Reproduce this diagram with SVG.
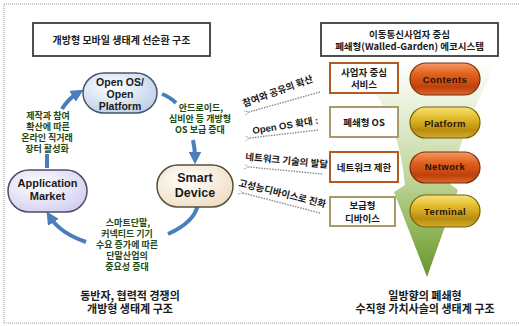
<svg xmlns="http://www.w3.org/2000/svg" width="519" height="326" viewBox="0 0 519 326">
  <defs>
    <style>
      .ko { font-family: "Noto Sans CJK KR", "Liberation Sans", sans-serif; font-weight: bold; }
      .lat { font-family: "Liberation Sans", "Noto Sans CJK KR", sans-serif; font-weight: bold; }
      .green { fill: #1d4a12; font-size: 9px; }
      .dark { fill: #1a1a1a; }
      .hdr { fill: #fff; stroke: #3c3c3c; stroke-width: 1.8; }
      .flow { fill: none; stroke: #4a7ebb; stroke-width: 4; stroke-linecap: butt; }
      .hint { fill: none; stroke: #8a8a8a; stroke-width: 1.4; stroke-dasharray: 1.5 1.2; }
      .boxA { fill: #fff; stroke: #b25a22; stroke-width: 2; }
      .boxB { fill: #fff; stroke: #a99a6c; stroke-width: 2; }
      .pillR { fill: url(#gRed); stroke: #7c2c08; stroke-width: 1.2; }
      .pillY { fill: url(#gGold); stroke: #7a5e0a; stroke-width: 1.2; }
      .pilltxt { font-family: "Liberation Sans", sans-serif; font-weight: bold; font-size: 9.5px; fill: #2a1404; letter-spacing: 0.4px; }
      .frame { stroke: #9a9a9a; stroke-width: 1; stroke-dasharray: 1 1; fill: none; }
    </style>
    <linearGradient id="gFunnel" x1="0" y1="0" x2="0" y2="1">
      <stop offset="0" stop-color="#ffffff"/>
      <stop offset="0.25" stop-color="#e4eed2"/>
      <stop offset="0.55" stop-color="#bed498"/>
      <stop offset="0.8" stop-color="#8db456"/>
      <stop offset="1" stop-color="#67932f"/>
    </linearGradient>
    <linearGradient id="gRed" x1="0" y1="0" x2="0" y2="1">
      <stop offset="0" stop-color="#f79a62"/>
      <stop offset="0.35" stop-color="#e0601e"/>
      <stop offset="0.75" stop-color="#c0400c"/>
      <stop offset="1" stop-color="#d86a2c"/>
    </linearGradient>
    <linearGradient id="gGold" x1="0" y1="0" x2="0" y2="1">
      <stop offset="0" stop-color="#f6e27a"/>
      <stop offset="0.35" stop-color="#e2bc2a"/>
      <stop offset="0.75" stop-color="#b88c10"/>
      <stop offset="1" stop-color="#d4ac2c"/>
    </linearGradient>
    <radialGradient id="gBlue" cx="0.4" cy="0.35" r="0.75">
      <stop offset="0" stop-color="#ffffff"/>
      <stop offset="1" stop-color="#b9cde8"/>
    </radialGradient>
    <radialGradient id="gLav" cx="0.4" cy="0.35" r="0.75">
      <stop offset="0" stop-color="#ffffff"/>
      <stop offset="1" stop-color="#cfcdef"/>
    </radialGradient>
    <radialGradient id="gCream" cx="0.4" cy="0.35" r="0.75">
      <stop offset="0" stop-color="#ffffff"/>
      <stop offset="1" stop-color="#f0dcc0"/>
    </radialGradient>
    <marker id="blueHead" viewBox="0 0 10 10" refX="5" refY="5" markerWidth="3.2" markerHeight="3.2" orient="auto" markerUnits="strokeWidth">
      <path d="M0,0 L10,5 L0,10 Z" fill="#4a7ebb"/>
    </marker>
    <marker id="grayHead" viewBox="0 0 10 10" refX="1" refY="5" markerWidth="6" markerHeight="6" orient="auto" markerUnits="userSpaceOnUse">
      <path d="M9,1 L1,5 L9,9" fill="none" stroke="#8a8a8a" stroke-width="1.4" stroke-dasharray="1.5 1"/>
    </marker>
  </defs>

  <rect width="519" height="326" fill="#fff"/>
  <!-- dotted outer frame -->
  <path class="frame" d="M4,4 H519 M4,4 V323 M4,323 H519"/>

  <!-- headers -->
  <g id="hdr-open">
    <rect class="hdr" x="33" y="23" width="177" height="33"/>
    <text class="ko dark" x="121.5" y="43.5" font-size="10" text-anchor="middle">개방형 모바일 생태계 선순환 구조</text>
  </g>
  <g id="hdr-closed">
    <rect class="hdr" x="321" y="23" width="177" height="33"/>
    <text class="ko dark" x="409.5" y="37.5" font-size="9.5" text-anchor="middle">이동통신사업자 중심</text>
    <text class="ko dark" x="409.5" y="50" font-size="9.5" text-anchor="middle">폐쇄형(Walled-Garden) 에코시스템</text>
  </g>

  <!-- funnel of the vertical value chain -->
  <path id="funnel" fill="url(#gFunnel)" d="M352,62 L497,62 C482,92 462,130 450,184 L458,190 L427,277 L394,192 L405,185 C401,142 388,102 352,62 Z"/>

  <!-- connectors -->
  <g id="connectors">
    <!-- open ecosystem cycle -->
    <path class="flow" d="M47,168 L47,154"/>
    <path class="flow" d="M62,109 Q68,99 78,93" marker-end="url(#blueHead)"/>
    <path class="flow" d="M162,94 Q170,97 176,103"/>
    <path class="flow" d="M193,140 Q195,149 195,158" marker-end="url(#blueHead)"/>
    <path class="flow" d="M198,204 Q195,222 168,234"/>
    <path class="flow" d="M86,242 Q60,233 50,217" marker-end="url(#blueHead)"/>
    <!-- pressure toward the open ecosystem -->
    <path class="hint" d="M320,92 L249,112" marker-end="url(#grayHead)"/>
    <path class="hint" d="M318,130 L250,138" marker-end="url(#grayHead)"/>
    <path class="hint" d="M322,174 L249,167" marker-end="url(#grayHead)"/>
    <path class="hint" d="M320,213 L243,193" marker-end="url(#grayHead)"/>
  </g>

  <!-- open ecosystem nodes -->
  <g id="node-openos">
    <rect x="83" y="73" width="74" height="40" rx="21" ry="20" fill="url(#gBlue)" stroke="#46566c" stroke-width="1.5"/>
    <text class="lat dark" font-size="10.5" text-anchor="middle"><tspan x="120" y="85.5">Open OS/</tspan><tspan x="120" y="97.5">Open</tspan><tspan x="120" y="109.5">Platform</tspan></text>
  </g>
  <g id="node-appmarket">
    <rect x="8" y="170" width="79" height="42" rx="21" ry="21" fill="url(#gLav)" stroke="#4e4e68" stroke-width="1.5"/>
    <text class="lat dark" font-size="11" text-anchor="middle"><tspan x="47.5" y="187">Application</tspan><tspan x="47.5" y="200">Market</tspan></text>
  </g>
  <g id="node-smartdevice">
    <rect x="157" y="165" width="76" height="42" rx="21" ry="21" fill="url(#gCream)" stroke="#54503e" stroke-width="1.5"/>
    <text class="lat dark" font-size="12.5" text-anchor="middle"><tspan x="195" y="182">Smart</tspan><tspan x="195" y="197">Device</tspan></text>
  </g>

  <!-- cycle labels -->
  <text class="ko green" text-anchor="middle"><tspan x="48" y="118.5">제작과 참여</tspan><tspan x="48" y="129.5">확산에 따른</tspan><tspan x="47" y="140.5">온라인 직거래</tspan><tspan x="47" y="151.5">장터 활성화</tspan></text>
  <text class="ko green" text-anchor="middle"><tspan x="201" y="111">안드로이드,</tspan><tspan x="200" y="122">심비안  등 개방형</tspan><tspan x="200" y="133">OS 보급 증대</tspan></text>
  <text class="ko green" text-anchor="middle"><tspan x="128" y="225.5">스마트단말,</tspan><tspan x="127" y="236.5">커넥티드 기기</tspan><tspan x="127" y="247.5">수요 증가에 따른</tspan><tspan x="127" y="258.5">단말산업의</tspan><tspan x="127" y="269.5">중요성 증대</tspan></text>

  <!-- rotated hint labels -->
  <text class="ko dark" font-size="9.5" transform="translate(244,107) rotate(-20)">참여와 공유의 확산</text>
  <text class="lat dark" font-size="9.5" transform="translate(253,134) rotate(-9)">Open OS 확대 :</text>
  <text class="ko dark" font-size="9.5" transform="translate(245,160) rotate(5.5)">네트워크 기술의 발달</text>
  <text class="ko dark" font-size="9.5" transform="translate(238,186) rotate(14)">고성능디바이스로 진화</text>

  <!-- closed ecosystem constraint boxes -->
  <g id="box-service">
    <rect class="boxA" x="330" y="63" width="68" height="30"/>
    <text class="ko dark" font-size="9.5" text-anchor="middle"><tspan x="364" y="76">사업자 중심</tspan><tspan x="364" y="87.5">서비스</tspan></text>
  </g>
  <g id="box-os">
    <rect class="boxB" x="330" y="107" width="68" height="30"/>
    <text class="ko dark" font-size="9.5" text-anchor="middle" x="364" y="126">폐쇄형 OS</text>
  </g>
  <g id="box-network">
    <rect class="boxA" x="330" y="152" width="68" height="30"/>
    <text class="ko dark" font-size="9.5" text-anchor="middle" x="364" y="171">네트워크 제한</text>
  </g>
  <g id="box-device">
    <rect class="boxB" x="330" y="197" width="65" height="29"/>
    <text class="ko dark" font-size="9.5" text-anchor="middle"><tspan x="362.5" y="209">보급형</tspan><tspan x="362.5" y="222">디바이스</tspan></text>
  </g>

  <!-- value chain layers -->
  <g id="pill-contents">
    <rect class="pillR" x="410" y="63" width="70" height="32" rx="16"/>
    <text class="pilltxt" x="445" y="83" text-anchor="middle">Contents</text>
  </g>
  <g id="pill-platform">
    <rect class="pillY" x="410" y="107" width="70" height="31" rx="15.5"/>
    <text class="pilltxt" x="445" y="126.5" text-anchor="middle">Platform</text>
  </g>
  <g id="pill-network">
    <rect class="pillR" x="410" y="152" width="70" height="31" rx="15.5"/>
    <text class="pilltxt" x="445" y="169.5" text-anchor="middle">Network</text>
  </g>
  <g id="pill-terminal">
    <rect class="pillY" x="410" y="195" width="70" height="32" rx="16"/>
    <text class="pilltxt" x="445" y="215" text-anchor="middle">Terminal</text>
  </g>

  <!-- captions -->
  <text class="ko dark" font-size="11" text-anchor="middle"><tspan x="130" y="299.5">동반자, 협력적 경쟁의</tspan><tspan x="130" y="313">개방형 생태계 구조</tspan></text>
  <text class="ko dark" font-size="11" text-anchor="middle"><tspan x="425" y="299.5">일방향의 폐쇄형</tspan><tspan x="425" y="313">수직형 가치사슬의 생태계 구조</tspan></text>
</svg>
